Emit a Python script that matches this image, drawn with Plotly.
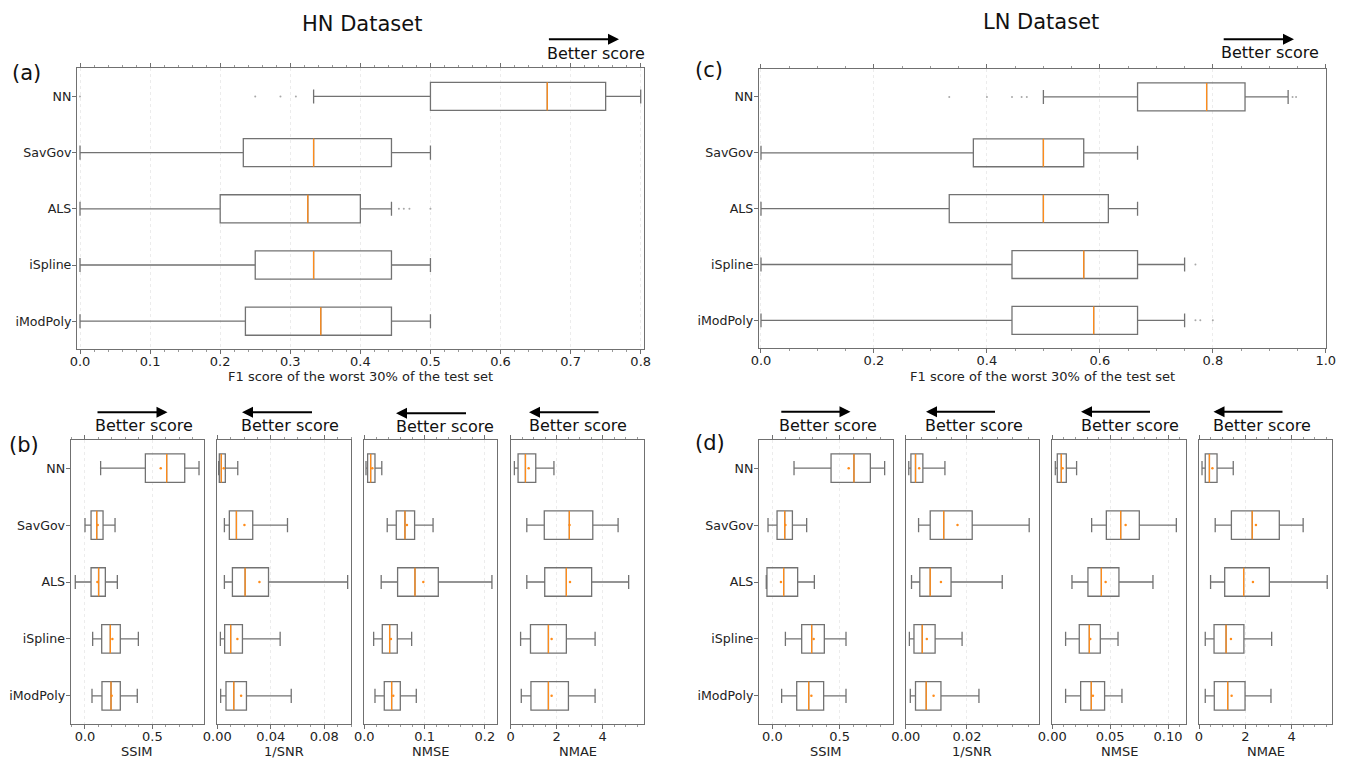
import plotly.graph_objects as go

# the page body adds an 8px offset; the figure is sized to fit the 1345x759 window
OFF = 8
W, H = 1345 - OFF, 759 - OFF
CATS = ["NN", "SavGov", "ALS", "iSpline", "iModPoly"]
POS = [0, 1, 2, 3, 4]

# ---------------- (a) HN dataset, F1 score of worst 30% ----------------
HN_F1_LOW = [0.3333, 0.0, 0.0, 0.0, 0.0]
HN_F1_Q1 = [0.5, 0.233, 0.2, 0.25, 0.236]
HN_F1_MED = [0.6667, 0.3333, 0.325, 0.3333, 0.3435]
HN_F1_Q3 = [0.75, 0.4444, 0.4, 0.4444, 0.4444]
HN_F1_HIGH = [0.8, 0.5, 0.4444, 0.5, 0.5]
HN_F1_OUT_X = [0.0, 0.25, 0.286, 0.308, 0.455, 0.462, 0.47, 0.5]
HN_F1_OUT_Y = [0, 0, 0, 0, 2, 2, 2, 2]

# ---------------- (c) LN dataset, F1 score of worst 30% ----------------
LN_F1_LOW = [0.5, 0.0, 0.0, 0.0, 0.0]
LN_F1_Q1 = [0.6667, 0.376, 0.3333, 0.4444, 0.4444]
LN_F1_MED = [0.789, 0.5, 0.5, 0.5714, 0.589]
LN_F1_Q3 = [0.857, 0.5714, 0.615, 0.6667, 0.6667]
LN_F1_HIGH = [0.9333, 0.6667, 0.6667, 0.75, 0.75]
LN_F1_OUT_X = [0.3333, 0.4, 0.4444, 0.4615, 0.4706, 0.9412, 0.9474, 0.7692, 0.7692, 0.7778, 0.8]
LN_F1_OUT_Y = [0, 0, 0, 0, 0, 0, 0, 3, 4, 4, 4]

# ---------------- (b) HN dataset metrics ----------------
HN_SSIM = dict(low=[0.116, 0.0, -0.072, 0.057, 0.052],
               q1=[0.448, 0.045, 0.045, 0.124, 0.126],
               med=[0.606, 0.087, 0.101, 0.188, 0.193],
               q3=[0.740, 0.134, 0.151, 0.262, 0.262],
               high=[0.846, 0.223, 0.240, 0.396, 0.388],
               mean=[0.562, 0.094, 0.092, 0.203, 0.198])
HN_ISNR = dict(low=[0.001, 0.0053, 0.0053, 0.0023, 0.0025],
               q1=[0.0015, 0.009, 0.0113, 0.0055, 0.0065],
               med=[0.003, 0.0143, 0.0208, 0.010, 0.0123],
               q3=[0.006, 0.0265, 0.0383, 0.0188, 0.0218],
               high=[0.0153, 0.0525, 0.0975, 0.047, 0.0553],
               mean=[0.0048, 0.0203, 0.0315, 0.015, 0.0178])
HN_NMSE = dict(low=[0.0028, 0.038, 0.028, 0.0155, 0.0177],
               q1=[0.0055, 0.053, 0.0552, 0.0298, 0.0331],
               med=[0.0105, 0.0674, 0.084, 0.042, 0.0453],
               q3=[0.0177, 0.0834, 0.1227, 0.0547, 0.0597],
               high=[0.029, 0.114, 0.2116, 0.0785, 0.0862],
               mean=[0.0133, 0.0707, 0.0978, 0.0442, 0.048])
HN_NMAE = dict(low=[0.16, 0.70, 0.70, 0.43, 0.46],
               q1=[0.32, 1.46, 1.48, 0.86, 0.88],
               med=[0.64, 2.55, 2.42, 1.64, 1.64],
               q3=[1.09, 3.57, 3.52, 2.42, 2.51],
               high=[1.88, 4.67, 5.13, 3.67, 3.67],
               mean=[0.78, 2.56, 2.58, 1.78, 1.78])

# ---------------- (d) LN dataset metrics ----------------
LN_SSIM = dict(low=[0.161, -0.032, -0.045, 0.097, 0.069],
               q1=[0.436, 0.035, -0.040, 0.218, 0.181],
               med=[0.606, 0.092, 0.084, 0.292, 0.270],
               q3=[0.728, 0.149, 0.188, 0.386, 0.381],
               high=[0.834, 0.255, 0.312, 0.547, 0.547],
               mean=[0.567, 0.097, 0.064, 0.307, 0.290])
LN_ISNR = dict(low=[0.001, 0.0042, 0.0019, 0.0012, 0.0015],
               q1=[0.0017, 0.008, 0.0046, 0.0027, 0.0032],
               med=[0.0032, 0.0124, 0.008, 0.0054, 0.0067],
               q3=[0.0056, 0.0217, 0.0148, 0.0096, 0.0115],
               high=[0.0128, 0.0403, 0.0315, 0.0184, 0.0239],
               mean=[0.0044, 0.0169, 0.0115, 0.0069, 0.0091])
LN_NMSE = dict(low=[0.0026, 0.034, 0.017, 0.0115, 0.0115],
               q1=[0.0043, 0.0467, 0.0308, 0.0233, 0.0245],
               med=[0.0078, 0.0591, 0.0424, 0.032, 0.0337],
               q3=[0.0121, 0.0752, 0.0576, 0.0415, 0.0452],
               high=[0.021, 0.1072, 0.087, 0.0568, 0.0602],
               mean=[0.0089, 0.0634, 0.0461, 0.0328, 0.0351])
LN_NMAE = dict(low=[0.13, 0.70, 0.50, 0.27, 0.27],
               q1=[0.27, 1.40, 1.11, 0.65, 0.66],
               med=[0.45, 2.30, 1.93, 1.17, 1.24],
               q3=[0.78, 3.47, 3.04, 1.94, 1.99],
               high=[1.48, 4.50, 5.54, 3.14, 3.11],
               mean=[0.58, 2.46, 2.33, 1.38, 1.41])

F1_TITLE = "F1 score of the worst 30% of the test set"

FONT = "DejaVu Sans, Verdana, sans-serif"
FRAME = "#707070"
BOXC = "#727272"
ORANGE = "#ff8c1a"
GRID = "#ececec"


def px(x):
    return (x - OFF) / W


def py(y):
    return 1 - (y - OFF) / H


panels = [
    dict(st=dict(low=HN_F1_LOW, q1=HN_F1_Q1, med=HN_F1_MED, q3=HN_F1_Q3, high=HN_F1_HIGH),
         out=(HN_F1_OUT_X, HN_F1_OUT_Y), fr=(77, 644.2, 68.3, 349.3), rng=[-0.0043, 0.805],
         tv=[0, 0.1, 0.2, 0.3, 0.4, 0.5, 0.6, 0.7, 0.8], minor=0.02, fmt="{:.1f}", ylab=True,
         title=F1_TITLE, ty=376.7),
    dict(st=dict(low=LN_F1_LOW, q1=LN_F1_Q1, med=LN_F1_MED, q3=LN_F1_Q3, high=LN_F1_HIGH),
         out=(LN_F1_OUT_X, LN_F1_OUT_Y), fr=(758.9, 1325.8, 69, 348.3), rng=[-0.0037, 1.0],
         tv=[0, 0.2, 0.4, 0.6, 0.8, 1.0], minor=0.05, fmt="{:.1f}", ylab=True,
         title=F1_TITLE, ty=376.7),
    dict(st=HN_SSIM, fr=(70.7, 204, 439.7, 724.3), rng=[-0.106, 0.883], tv=[0, 0.5], minor=0.1,
         fmt="{:.1f}", ylab=True, title="SSIM", ty=751.7),
    dict(st=HN_ISNR, fr=(217.3, 351, 439.7, 724.3), rng=[0, 0.1], tv=[0, 0.04, 0.08], minor=0.01,
         fmt="{:.2f}", ylab=False, title="1/SNR", ty=751.7),
    dict(st=HN_NMSE, fr=(364.3, 496.7, 439.7, 724.3), rng=[0, 0.2195], tv=[0, 0.1, 0.2], minor=0.02,
         fmt="{:.1f}", ylab=False, title="NMSE", ty=751.7),
    dict(st=HN_NMAE, fr=(510.7, 644.3, 439.7, 724.3), rng=[0, 5.81], tv=[0, 2, 4], minor=0.5,
         fmt="{:.0f}", ylab=False, title="NMAE", ty=751.7),
    dict(st=LN_SSIM, fr=(759, 893, 439.7, 724.3), rng=[-0.099, 0.896], tv=[0, 0.5], minor=0.1,
         fmt="{:.1f}", ylab=True, title="SSIM", ty=751.7),
    dict(st=LN_ISNR, fr=(905.7, 1039, 439.7, 724.3), rng=[0, 0.0435], tv=[0, 0.02], minor=0.005,
         fmt="{:.2f}", ylab=False, title="1/SNR", ty=751.7),
    dict(st=LN_NMSE, fr=(1052.3, 1185.7, 439.7, 724.3), rng=[0, 0.1153], tv=[0, 0.05, 0.10], minor=0.01,
         fmt="{:.2f}", ylab=False, title="NMSE", ty=751.7),
    dict(st=LN_NMAE, fr=(1199, 1332.3, 439.7, 724.3), rng=[0, 5.76], tv=[0, 2, 4], minor=0.5,
         fmt="{:.0f}", ylab=False, title="NMAE", ty=751.7),
]

fig = go.Figure()
layout = dict(width=W, height=H, margin=dict(l=0, r=0, t=0, b=0, pad=0, autoexpand=False),
              paper_bgcolor="white", plot_bgcolor="white", showlegend=False,
              font=dict(family=FONT, size=13, color="#222"))
annotations = []

for i, p in enumerate(panels, start=1):
    sfx = "" if i == 1 else str(i)
    xa, ya = "x" + sfx, "y" + sfx
    st = p["st"]
    x0, x1, y0, y1 = p["fr"]

    fig.add_trace(go.Box(
        orientation="h", y=POS, q1=st["q1"], median=st["med"], q3=st["q3"],
        lowerfence=st["low"], upperfence=st["high"], width=0.5, whiskerwidth=0.5,
        line=dict(color=BOXC, width=1.3), fillcolor="rgba(0,0,0,0)", boxpoints=False,
        xaxis=xa, yaxis=ya, hoverinfo="skip", showlegend=False))

    # orange median segments
    mx, my = [], []
    for k, m in enumerate(st["med"]):
        mx += [m, m, None]
        my += [POS[k] - 0.25, POS[k] + 0.25, None]
    fig.add_trace(go.Scatter(x=mx, y=my, mode="lines", line=dict(color=ORANGE, width=1.3),
                             xaxis=xa, yaxis=ya, hoverinfo="skip", showlegend=False))

    if "mean" in st:
        fig.add_trace(go.Scatter(x=st["mean"], y=POS, mode="markers",
                                 marker=dict(color=ORANGE, size=2.5, line=dict(width=0)),
                                 xaxis=xa, yaxis=ya, hoverinfo="skip", showlegend=False))
    if "out" in p:
        ox, oy = p["out"]
        fig.add_trace(go.Scatter(x=ox, y=oy, mode="markers",
                                 marker=dict(color="#a8a8a8", size=2, line=dict(width=0)),
                                 xaxis=xa, yaxis=ya, hoverinfo="skip", showlegend=False))

    layout["xaxis" + sfx] = dict(
        domain=[px(x0), px(x1)], anchor=ya, range=p["rng"], showline=True, linecolor=FRAME,
        linewidth=1.2, mirror="allticks", ticks="outside", ticklen=4, tickwidth=1, tickcolor=FRAME,
        tickmode="array", tickvals=p["tv"], ticktext=[p["fmt"].format(v) for v in p["tv"]],
        tickfont=dict(size=13, color="#222"), showgrid=True, gridcolor=GRID, griddash="dot",
        gridwidth=1, zeroline=False, fixedrange=True, automargin=False, ticklabelstandoff=-4,
        minor=dict(ticks="outside", ticklen=2, tickwidth=1, tickcolor="#999", dtick=p["minor"],
                   tick0=0, showgrid=False))
    layout["yaxis" + sfx] = dict(
        domain=[py(y1), py(y0)], anchor=xa, range=[4.5, -0.5], showline=True, linecolor=FRAME,
        linewidth=1.2, mirror=True, ticks="outside" if p["ylab"] else "", ticklen=4,
        tickcolor=FRAME, tickmode="array", tickvals=POS, ticktext=CATS, automargin=False,
        showticklabels=p["ylab"], tickfont=dict(size=12.6, color="#222"), ticklabelstandoff=-2,
        showgrid=False, zeroline=False, fixedrange=True)

    annotations.append(dict(text=p["title"], x=px((x0 + x1) / 2), y=py(p["ty"]), xref="paper",
                            yref="paper", showarrow=False, xanchor="center", yanchor="middle",
                            font=dict(size=13, color="#222")))

# Titles and panel letters
for txt, cx, cy in [("HN Dataset", 362, 24), ("LN Dataset", 1041, 22)]:
    annotations.append(dict(text=txt, x=px(cx), y=py(cy), xref="paper", yref="paper",
                            showarrow=False, xanchor="center", yanchor="middle",
                            font=dict(size=21, color="#111")))
for txt, cx, cy in [("(a)", 26, 73), ("(c)", 709, 70), ("(b)", 24, 445), ("(d)", 710, 443)]:
    annotations.append(dict(text=txt, x=px(cx), y=py(cy), xref="paper", yref="paper",
                            showarrow=False, xanchor="center", yanchor="middle",
                            font=dict(size=21, color="#111")))

# "Better score" arrows: (tail_x, head_x, arrow_y, text_cx, text_y)
ARROWS = [
    (547.4, 619, 39.3, 595.5, 53.3),
    (1222.2, 1294, 39.3, 1270.4, 52.7),
    (96, 167.5, 412.3, 144, 425.7),
    (313.5, 242, 412.3, 290, 425.7),
    (467.5, 396, 413.3, 445, 426.7),
    (600, 529, 412.3, 577.6, 425.7),
    (779.8, 850.5, 411.7, 828, 425.3),
    (996.5, 926, 411.7, 974.4, 425.3),
    (1151.5, 1081, 411.7, 1129.5, 425.3),
    (1284, 1213.5, 411.7, 1261.5, 425.3),
]
for tx, hx, ay_, tcx, ty_ in ARROWS:
    annotations.append(dict(text="", x=px(hx), y=py(ay_), xref="paper", yref="paper",
                            showarrow=True, ax=tx - hx, ay=0, axref="pixel", ayref="pixel",
                            arrowhead=2, arrowsize=1.1, arrowwidth=2, arrowcolor="black",
                            standoff=0, startstandoff=0))
    annotations.append(dict(text="Better score", x=px(tcx), y=py(ty_), xref="paper", yref="paper",
                            showarrow=False, xanchor="center", yanchor="middle",
                            font=dict(size=16, color="#111")))

layout["annotations"] = annotations
fig.update_layout(**layout)
fig.write_html("out.html")
